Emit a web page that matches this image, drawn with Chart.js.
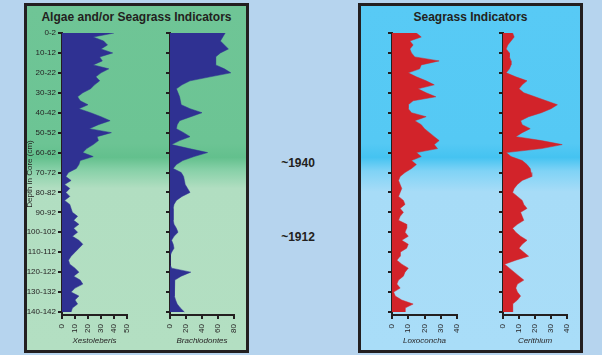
<!DOCTYPE html>
<html>
<head>
<meta charset="utf-8">
<title>Algae and Seagrass Indicators</title>
<script src="https://cdn.jsdelivr.net/npm/chart.js@4.4.1/dist/chart.umd.min.js"></script>
<style>
    html, body { margin: 0; padding: 0; }
    body {
        width: 602px; height: 355px; position: relative; overflow: hidden;
        background: #b6d4ee;
        font-family: 'Liberation Sans', Arial, sans-serif; color: #231f20;
    }
    .panel {
        position: absolute; top: 3px; width: 225px; height: 350px;
        box-sizing: border-box; border: 3px solid #231f20;
    }
    .panel.green {
        left: 24px;
        background: linear-gradient(to bottom, #6fc596 0%, #6cc494 40%, #63c08d 44%, #86d0a7 47.5%, #b1dec1 53%, #b3dfc2 100%);
    }
    .panel.blue {
        left: 358px;
        background: linear-gradient(to bottom, #58caf5 0%, #55c9f4 40%, #45c3f1 44%, #80d3f6 48%, #a7dcf7 54%, #a9ddf8 100%);
    }
    .panel h2 {
        position: absolute; top: 4px; left: 0; right: 0; margin: 0;
        text-align: center; font-size: 12px; line-height: 14px; font-weight: bold;
    }
    .era {
        position: absolute; left: 268px; width: 60px; text-align: center;
        font-size: 12px; line-height: 14px; font-weight: bold;
    }
    canvas { position: absolute; top: 20px; }
</style>
</head>
<body>

<div class="panel green"><h2>Algae and/or Seagrass Indicators</h2></div>
<div class="panel blue"><h2>Seagrass Indicators</h2></div>
<div class="era" style="top:156px">~1940</div>
<div class="era" style="top:230px">~1912</div>

<canvas id="xesto" width="125" height="332" style="left:18px"></canvas>
<canvas id="brachio" width="100" height="332" style="left:150px"></canvas>
<canvas id="loxo" width="105" height="332" style="left:370px"></canvas>
<canvas id="ceri" width="105" height="332" style="left:481px"></canvas>

<script>
// ─── DATA ───
// sample depth in core (cm), top of each 2 cm slice
const depths = [
    0, 2, 4, 6, 8, 10, 12, 14, 16, 18, 20, 22, 24, 26, 28, 30, 32, 34, 36, 38,
    40, 42, 44, 46, 48, 50, 52, 54, 56, 58, 60, 62, 64, 66, 68, 70, 72, 74, 76, 78,
    80, 82, 84, 86, 88, 90, 92, 94, 96, 98, 100, 102, 104, 106, 108, 110, 112, 114, 116, 118,
    120, 122, 124, 126, 128, 130, 132, 134, 136, 138, 140
];
const depthTicks = [0, 10, 20, 30, 40, 50, 60, 70, 80, 90, 100, 110, 120, 130, 140];
const depthLabels = ['0-2', '10-12', '20-22', '30-32', '40-42', '50-52', '60-62', '70-72',
    '80-82', '90-92', '100-102', '110-112', '120-122', '130-132', '140-142'];

const xestoleberis = [
    40, 24, 32, 35, 30, 39, 29, 31, 24, 36, 30, 26, 29, 25, 22, 16, 12, 14, 20, 13,
    22, 30, 37, 28, 21, 38, 27, 28, 24, 19, 16, 24, 14, 13, 11, 5, 3, 7, 2, 6,
    3, 6, 2, 6, 7, 8, 12, 9, 13, 9, 12, 8, 13, 16, 13, 10, 7, 5, 6, 10,
    13, 9, 14, 16, 10, 7, 13, 10, 12, 8, 7
];
const brachiodontes = [
    69, 66, 63, 68, 73, 63, 57, 57, 57, 68, 76, 50, 25, 15, 8, 10, 12, 13, 14, 25,
    40, 26, 12, 9, 8, 17, 25, 12, 2, 24, 47, 30, 16, 8, 4, 14, 17, 18, 19, 22,
    25, 15, 8, 5, 4, 4, 4, 4, 5, 8, 10, 5, 2, 4, 5, 2, 0, 0, 0, 2,
    26, 14, 6, 6, 6, 5, 5, 7, 9, 13, 18
];
const loxoconcha = [
    15, 18, 11, 13, 11, 12, 14, 29, 18, 17, 10, 15, 21, 26, 16, 21, 27, 13, 10, 10,
    12, 21, 14, 18, 20, 23, 26, 29, 26, 28, 15, 18, 12, 15, 12, 8, 5, 4, 5, 6,
    5, 4, 7, 8, 5, 7, 5, 4, 9, 9, 8, 10, 6, 10, 9, 5, 5, 3, 6, 10,
    8, 7, 4, 3, 5, 1, 2, 6, 13, 8, 8
];
const cerithium = [
    6, 7, 5, 3, 2, 4, 4, 5, 5, 4, 2, 8, 15, 12, 10, 13, 20, 27, 34, 30,
    24, 16, 11, 12, 17, 12, 8, 24, 37, 24, 2, 5, 12, 15, 17, 17.5, 18, 12, 9, 7,
    6, 9, 12, 13, 15, 11, 12, 13, 9, 6, 8, 11, 15, 12, 10, 13, 16, 8, 1, 4,
    7, 10, 13, 9, 8, 9, 11, 9, 6, 6, 6
];

(function () {
    'use strict';

    const INK = '#231f20';
    const NAVY = '#2f3192';
    const RED = '#d2232a';

    Chart.defaults.font.family = "'Liberation Sans', Arial, sans-serif";
    Chart.defaults.color = INK;

    // ─── ONE STRIP PER TAXON ───
    function strip(id, values, o) {
        return new Chart(document.getElementById(id), {
            type: 'line',
            data: {
                datasets: [{
                    data: depths.map((d, i) => ({ x: values[i], y: d })),
                    fill: 'origin',
                    backgroundColor: o.color,
                    borderColor: o.color,
                    borderWidth: 0.5,
                    pointRadius: 0,
                    tension: 0
                }]
            },
            options: {
                indexAxis: 'y',
                responsive: false,
                animation: false,
                events: [],
                layout: { padding: { top: 13, right: o.padRight, left: 0, bottom: 0 } },
                plugins: { legend: { display: false }, tooltip: { enabled: false } },
                scales: {
                    x: {
                        type: 'linear', position: 'bottom', min: 0, max: o.max,
                        ticks: {
                            stepSize: o.step, minRotation: 90, maxRotation: 90, autoSkip: false,
                            padding: 5, font: { size: 8 }, color: INK
                        },
                        grid: { drawOnChartArea: false, tickLength: 4, color: INK, lineWidth: 2 },
                        border: { color: INK, width: 2 },
                        title: {
                            display: true, text: o.name, color: INK,
                            font: { size: 8, style: 'italic' }, padding: { top: 0, bottom: 6 }
                        },
                        afterFit: s => { s.height = 37; }
                    },
                    y: {
                        type: 'linear', reverse: true, min: 0, max: 141.5,
                        afterBuildTicks: s => { s.ticks = depthTicks.map(v => ({ value: v })); },
                        ticks: {
                            display: o.showDepth, font: { size: 8 }, color: INK, padding: 2,
                            callback: (v, i) => depthLabels[i]
                        },
                        grid: { drawOnChartArea: false, tickLength: 4, color: INK, lineWidth: 2 },
                        border: { color: INK, width: 2 },
                        title: {
                            display: o.showDepth, text: 'Depth in Core (cm)', color: INK,
                            font: { size: 8 }, padding: { top: 7, bottom: 0 }
                        },
                        afterFit: s => { s.width = o.yWidth; }
                    }
                }
            }
        });
    }

    // ─── INIT ───
    strip('xesto', xestoleberis, { name: 'Xestoleberis', color: NAVY, max: 50, step: 10, yWidth: 44, padRight: 16, showDepth: true });
    strip('brachio', brachiodontes, { name: 'Brachiodontes', color: NAVY, max: 80, step: 20, yWidth: 20, padRight: 16, showDepth: false });
    strip('loxo', loxoconcha, { name: 'Loxoconcha', color: RED, max: 40, step: 10, yWidth: 22, padRight: 18, showDepth: false });
    strip('ceri', cerithium, { name: 'Cerithium', color: RED, max: 40, step: 10, yWidth: 22, padRight: 19, showDepth: false });
})();
</script>
</body>
</html>
